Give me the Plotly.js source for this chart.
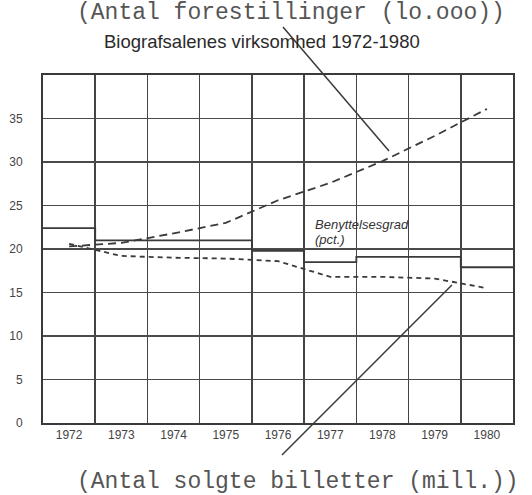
<!DOCTYPE html>
<html>
<head>
<meta charset="utf-8">
<script src="https://cdn.plot.ly/plotly-3.0.1.min.js"></script>
<style>html,body{margin:0;padding:0;background:#fff;}#chart{width:532px;height:495px;}</style>
</head>
<body>
<div id="chart"></div>
<script>
const years = [1972, 1973, 1974, 1975, 1976, 1977, 1978, 1979, 1980];
const yearLabels = ['1972','1973','1974','1975','1976','1977','1978','1979','1980'];
const forestillinger = [20.3, 20.7, 21.8, 23.0, 25.6, 27.6, 30.1, 33.0, 36.1];
const billetter = [20.6, 19.2, 19.0, 18.9, 18.6, 16.8, 16.8, 16.6, 15.5];
const benyttelsesgrad = [22.4, 21.0, 21.0, 21.0, 19.8, 18.5, 19.1, 19.1, 17.9];
const yTicks = [0, 5, 10, 15, 20, 25, 30, 35];

// step line spans full year columns
const stepX = years.map(y => y - 0.5).concat([years[years.length - 1] + 0.5]);
const stepY = benyttelsesgrad.concat([benyttelsesgrad[benyttelsesgrad.length - 1]]);
const boundaries = stepX;

const ink = '#3a3a3a';
const traces = [
  {x: stepX, y: stepY, mode: 'lines', line: {shape: 'hv', color: ink, width: 1.8}, hoverinfo: 'skip', showlegend: false},
  {x: years, y: forestillinger, mode: 'lines', line: {color: ink, width: 1.8, dash: '8px,5px'}, showlegend: false},
  {x: years, y: billetter, mode: 'lines', line: {color: ink, width: 1.8, dash: '5px,4px'}, showlegend: false}
];

const mono = {family: 'Liberation Mono, DejaVu Sans Mono, monospace', size: 23, color: '#555'};
const sans = 'Liberation Sans, Arial, sans-serif';
const layout = {
  width: 532, height: 495,
  margin: {l: 43, r: 19, t: 75, b: 72},
  paper_bgcolor: '#fff', plot_bgcolor: '#fff',
  showlegend: false,
  xaxis: {
    range: [1971.5, 1980.5], tickmode: 'array', tickvals: years, ticktext: yearLabels,
    showgrid: false, zeroline: false, ticks: '',
    showline: true, mirror: true, linecolor: ink, linewidth: 2,
    tickfont: {family: sans, size: 12, color: '#444'},
    minor: {tickmode: 'array', tickvals: boundaries, showgrid: true, gridcolor: '#444', gridwidth: 1.6, ticks: ''}
  },
  yaxis: {
    range: [0, 40], tickmode: 'array', tickvals: yTicks,
    showgrid: true, gridcolor: '#4a4a4a', gridwidth: 1.5, zeroline: false, ticks: '',
    showline: true, mirror: true, linecolor: ink, linewidth: 2,
    ticklabelstandoff: 16,
    tickfont: {family: sans, size: 12, color: '#444'}
  },
  annotations: [
    {text: '(Antal forestillinger (lo.ooo))', xref: 'paper', yref: 'paper', x: 0.528, y: 1.178, xanchor: 'center', yanchor: 'middle', showarrow: false, font: mono, borderpad: 0},
    {text: 'Biografsalenes virksomhed 1972-1980', xref: 'paper', yref: 'paper', x: 0.466, y: 1.097, xanchor: 'center', yanchor: 'middle', showarrow: false,
     font: {family: sans, size: 18.5, color: '#2a2a2a'}, borderpad: 0},
    {text: '(Antal solgte billetter (mill.))', xref: 'paper', yref: 'paper', x: 0.542, y: -0.17, xanchor: 'center', yanchor: 'middle', showarrow: false, font: mono},
    {text: '<i>Benyttelsesgrad</i>', xref: 'paper', yref: 'paper', x: 0.574, y: 0.571, xanchor: 'left', yanchor: 'middle', showarrow: false,
     font: {family: sans, size: 13, color: '#333'}},
    {text: '<i>(pct.)</i>', xref: 'paper', yref: 'paper', x: 0.574, y: 0.526, xanchor: 'left', yanchor: 'middle', showarrow: false,
     font: {family: sans, size: 13, color: '#333'}}
  ],
  shapes: [
    {type: 'line', xref: 'paper', yref: 'paper', x0: 0.5106, y0: 1.138, x1: 0.7362, y1: 0.7816, line: {color: ink, width: 1.5}},
    {type: 'line', xref: 'paper', yref: 'paper', x0: 0.870, y0: 0.3966, x1: 0.5085, y1: -0.092, line: {color: ink, width: 1.5}}
  ]
};

Plotly.newPlot('chart', traces, layout, {staticPlot: true, displayModeBar: false});
</script>
</body>
</html>
